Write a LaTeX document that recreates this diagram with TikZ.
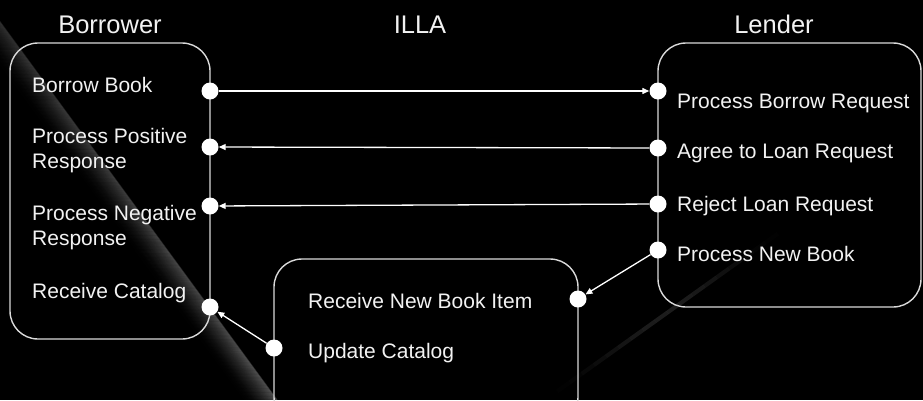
\documentclass[tikz,border=0pt]{standalone}
\usepackage{fontspec}
\setmainfont{Liberation Sans}
\usetikzlibrary{arrows.meta}

\definecolor{edgegray}{HTML}{DADADA}
\definecolor{txt}{HTML}{F2F2F2}

\tikzset{
  lane/.style={draw=edgegray, line width=1.4pt, rounded corners=28pt},
  dot/.style={circle, fill=white, draw=none, minimum size=17pt, inner sep=0pt},
  item/.style={text=txt, anchor=base west, inner sep=0pt, align=left,
               font=\fontsize{21}{25}\selectfont},
  title/.style={text=txt, anchor=base, inner sep=0pt, font=\fontsize{25.5}{30}\selectfont},
  conn/.style={draw=white, line width=1.3pt, -{Triangle[length=7pt,width=6pt]}}
}

\begin{document}
\begin{tikzpicture}[x=1pt, y=-1pt]
  \useasboundingbox (0,0) rectangle (923,400);
  \clip (0,0) rectangle (923,400);
  \fill[black] (0,0) rectangle (923,400);

  % diagonal light sheen: sharp edge on the right, fading out to the left,
  % a little brighter towards the lower end
  \foreach \t in {0,...,7} {
    \pgfmathsetmacro{\ya}{400*\t/8}
    \pgfmathsetmacro{\yb}{400*(\t+1)/8}
    \pgfmathsetmacro{\gain}{0.55+0.45*(\t+0.5)/8}
    \foreach \i in {0,...,34} {
      \pgfmathsetmacro{\op}{\gain*0.2*(1-\i/35)^1.8}
      \draw[white, line width=1.2pt, opacity=\op]
        (-16-\i+0.7325*\ya,\ya) -- (-16-\i+0.7325*\yb,\yb);
    }
  }
  % faint glint low on the right
  \foreach \t in {0,...,19} {
    \pgfmathsetmacro{\op}{0.11*sin(180*(\t+0.5)/20)^2}
    \pgfmathsetmacro{\xa}{545+245*\t/20}
    \pgfmathsetmacro{\ya}{400-175*\t/20}
    \pgfmathsetmacro{\xb}{545+245*(\t+1)/20}
    \pgfmathsetmacro{\yb}{400-175*(\t+1)/20}
    \draw[white, line width=4pt, opacity=\op] (\xa,\ya) -- (\xb,\yb);
  }

  % swimlane boxes
  \draw[lane] (10,43) rectangle (210,339);
  \draw[lane] (658,43) rectangle (921,307);
  \draw[lane] (274,259) rectangle (578,425);

  % titles
  \node[title] (tb) at (110,33) {Borrower};
  \node[title] (ti) at (420,33) {ILLA};
  \node[title] (tl) at (774,33) {Lender};

  % Borrower items (base anchor sits on the last line)
  \node[item] (bt1) at (32,92) {Borrow Book};
  \node[item] (bt2) at (32,168) {Process Positive\\Response};
  \node[item] (bt3) at (32,245) {Process Negative\\Response};
  \node[item] (bt4) at (32,298) {Receive Catalog};

  % Lender items
  \node[item] (lt1) at (677,108) {Process Borrow Request};
  \node[item] (lt2) at (677,158) {Agree to Loan Request};
  \node[item] (lt3) at (677,211) {Reject Loan Request};
  \node[item] (lt4) at (677,261) {Process New Book};

  % ILLA items
  \node[item] (it1) at (308,308) {Receive New Book Item};
  \node[item] (it2) at (308,358) {Update Catalog};

  % ports
  \node[dot] (b1) at (210,91) {};
  \node[dot] (b2) at (210,147) {};
  \node[dot] (b3) at (210,206) {};
  \node[dot] (b4) at (210,307) {};
  \node[dot] (l1) at (658,91) {};
  \node[dot] (l2) at (658,148) {};
  \node[dot] (l3) at (658,204) {};
  \node[dot] (l4) at (658,250) {};
  \node[dot] (i1) at (578,299) {};
  \node[dot] (i2) at (274,348) {};

  % message flows
  \draw[conn] (b1) -- (l1);
  \draw[conn] (l2) -- (b2);
  \draw[conn] (l3) -- (b3);
  \draw[conn] (l4) -- (i1);
  \draw[conn] (i2) -- (b4);
\end{tikzpicture}
\end{document}
